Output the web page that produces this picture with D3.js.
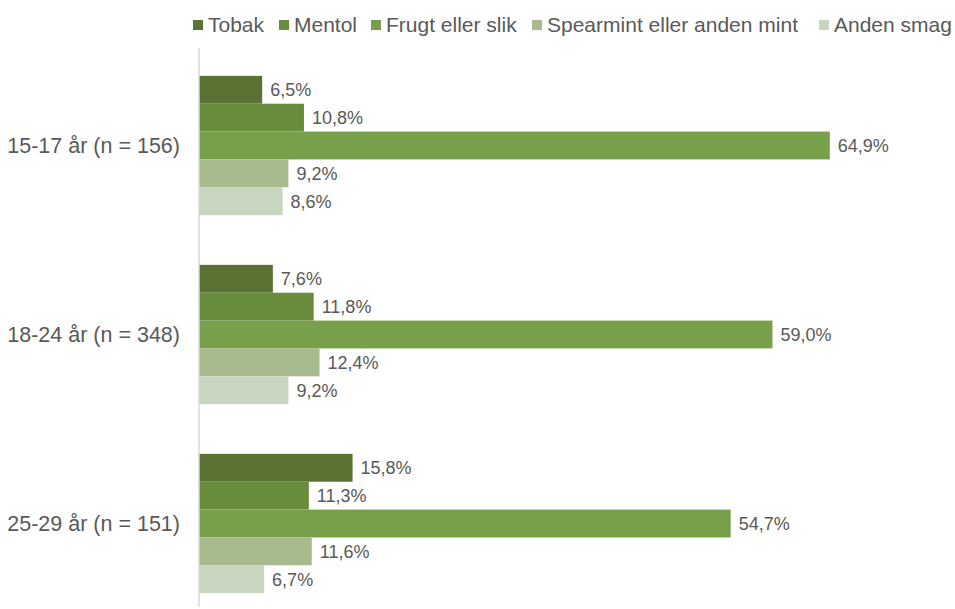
<!DOCTYPE html>
<html>
<head>
<meta charset="utf-8">
<script src="https://cdn.jsdelivr.net/npm/d3@7"></script>
<style>
body{margin:0;background:#fff;}
text{font-family:"Liberation Sans",Arial,sans-serif;fill:#595959;}
</style>
</head>
<body>
<div id="content"></div>
<script>
// data
var groups = ["15-17 år (n = 156)", "18-24 år (n = 348)", "25-29 år (n = 151)"];
var series = ["Tobak", "Mentol", "Frugt eller slik", "Spearmint eller anden mint", "Anden smag"];
var tobak = [6.5, 7.6, 15.8];
var mentol = [10.8, 11.8, 11.3];
var frugt = [64.9, 59.0, 54.7];
var spearmint = [9.2, 12.4, 11.6];
var anden = [8.6, 9.2, 6.7];
var colors = ["#5a7334", "#6a8c3d", "#78a04a", "#a7bb8f", "#c8d5bf"];

var values = [tobak, mentol, frugt, spearmint, anden];
var width = 955, height = 609;
var x0 = 199;

var rows = [];
groups.forEach(function(g, gi){
	series.forEach(function(s, si){
		rows.push({group: g, series: s, value: values[si][gi], idx: si});
	});
});

var svg = d3.select("#content").append("svg")
	.attr("width", width)
	.attr("height", height);

var x = d3.scaleLinear().domain([0, 70]).range([x0, x0 + 680.4]);
var y = d3.scaleBand().domain(groups).range([51, 618]).paddingInner(0.263).paddingOuter(0.1315);
var ys = d3.scaleBand().domain(series).range([0, y.bandwidth()]);
var color = d3.scaleOrdinal().domain(series).range(colors);

svg.selectAll(".bar")
	.data(rows)
	.enter()
	.append("rect")
	.attr("x", x(0))
	.attr("y", function(d){ return y(d.group) + ys(d.series); })
	.attr("width", function(d){ return x(d.value) - x(0); })
	.attr("height", ys.bandwidth())
	.attr("fill", function(d){ return color(d.series); });

svg.selectAll(".val")
	.data(rows)
	.enter()
	.append("text")
	.attr("x", function(d){ return x(d.value) + 8; })
	.attr("y", function(d){ return y(d.group) + ys(d.series) + ys.bandwidth() / 2; })
	.attr("dy", "0.36em")
	.style("font-size", "18px")
	.text(function(d){ return d.value.toFixed(1).replace(".", ",") + "%"; });

// vertical axis line
svg.append("line")
	.attr("x1", x0).attr("x2", x0)
	.attr("y1", 48).attr("y2", 607)
	.attr("stroke", "#d9d9d9")
	.attr("stroke-width", 1.5);

svg.selectAll(".cat")
	.data(groups)
	.enter()
	.append("text")
	.attr("x", 180)
	.attr("y", function(d){ return y(d) + y.bandwidth() / 2; })
	.attr("dy", "0.36em")
	.attr("text-anchor", "end")
	.style("font-size", "21.5px")
	.text(function(d){ return d; });

// legend
var legendX = [193, 279, 371, 532, 819];
var legend = svg.selectAll(".leg")
	.data(series)
	.enter()
	.append("g")
	.attr("transform", function(d, i){ return "translate(" + legendX[i] + ",0)"; });
legend.append("rect")
	.attr("x", 0).attr("y", 20)
	.attr("width", 10).attr("height", 10)
	.attr("fill", function(d){ return color(d); });
legend.append("text")
	.attr("x", 15).attr("y", 32)
	.style("font-size", "21px")
	.text(function(d){ return d; });
</script>
</body>
</html>
